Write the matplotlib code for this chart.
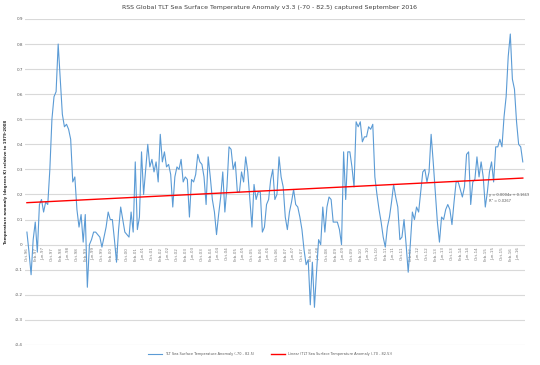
import matplotlib
matplotlib.use("Agg")
import matplotlib.pyplot as plt
import numpy as np
import pandas as pd

# Monthly anomaly values (degrees K)
start_month = "1996-10-01"
anomaly = [
    0.05, -0.03, -0.12, 0.02, 0.09, -0.03, 0.16, 0.18, 0.13, 0.17,
    0.16, 0.30, 0.50, 0.59, 0.61, 0.80, 0.66, 0.52, 0.47, 0.48,
    0.46, 0.42, 0.25, 0.27, 0.14, 0.07, 0.12, 0.01, 0.12, -0.17,
    0.00, 0.02, 0.05, 0.05, 0.04, 0.03, -0.01, 0.03, 0.07, 0.13,
    0.10, 0.10, 0.02, -0.07, 0.06, 0.15, 0.10, 0.05, 0.04, 0.03,
    0.13, 0.05, 0.33, 0.06, 0.11, 0.37, 0.20, 0.30, 0.40, 0.31,
    0.34, 0.29, 0.33, 0.25, 0.44, 0.33, 0.37, 0.31, 0.32, 0.28,
    0.15, 0.27, 0.31, 0.30, 0.34, 0.25, 0.27, 0.26, 0.11, 0.26,
    0.25, 0.28, 0.36, 0.33, 0.32, 0.27, 0.16, 0.35, 0.27, 0.18,
    0.13, 0.04, 0.12, 0.19, 0.29, 0.13, 0.23, 0.39, 0.38, 0.30,
    0.33, 0.21, 0.21, 0.29, 0.25, 0.35, 0.29, 0.18, 0.07, 0.24,
    0.18, 0.21, 0.21, 0.05, 0.07, 0.16, 0.18, 0.26, 0.30, 0.18,
    0.20, 0.35, 0.27, 0.23, 0.11, 0.06, 0.13, 0.17, 0.22, 0.16,
    0.15, 0.11, 0.06, -0.02, -0.08, -0.06, -0.24, -0.07, -0.25, -0.11,
    0.02, 0.00, 0.15, 0.05, 0.15, 0.19, 0.18, 0.09, 0.09, 0.09,
    0.06, 0.00, 0.37, 0.18, 0.37, 0.37, 0.31, 0.23, 0.49, 0.47,
    0.49, 0.41, 0.43, 0.43, 0.47, 0.46, 0.48, 0.27, 0.20, 0.14,
    0.09, 0.03, -0.01, 0.07, 0.11, 0.17, 0.24, 0.19, 0.15, 0.02,
    0.03, 0.10, 0.00, -0.11, 0.00, 0.13, 0.10, 0.15, 0.13, 0.21,
    0.29, 0.30, 0.25, 0.29, 0.44, 0.33, 0.21, 0.09, 0.01, 0.11,
    0.10, 0.14, 0.16, 0.14, 0.08, 0.17, 0.25, 0.25, 0.22, 0.19,
    0.23, 0.36, 0.37, 0.16, 0.25, 0.26, 0.35, 0.27, 0.33, 0.27,
    0.15, 0.21, 0.29, 0.33, 0.25, 0.39, 0.39, 0.42, 0.39, 0.51,
    0.59, 0.75, 0.84, 0.66, 0.62, 0.49, 0.40, 0.39, 0.33,
]
yticks = [0.9, 0.8, 0.7, 0.6, 0.5, 0.4, 0.3, 0.2, 0.1, 0, -0.1, -0.2, -0.3, -0.4]
series_name = "TLT Sea Surface Temperature Anomaly (-70 - 82.5)"

months = pd.date_range(start_month, periods=len(anomaly), freq="MS")
labels = [d.strftime("%b-%y") for d in months]
x = np.arange(len(anomaly))

fig = plt.figure(figsize=(5.4, 3.65), dpi=100)
ax = fig.add_axes([0.046, 0.055, 0.926, 0.893])

# category labels sit on the zero line, so move the spine first
ax.spines["bottom"].set_position(("data", 0))
for s in ["top", "right", "left", "bottom"]:
    ax.spines[s].set_visible(False)

ax.plot(x, anomaly, color="#5B9BD5", lw=0.8, label=series_name)

# linear trend like the Excel trendline
fit = np.polyfit(x + 1, anomaly, 1)
trend = np.polyval(fit, x + 1)
ax.plot(x, trend, color="#FF0000", lw=1.0, label="Linear (" + series_name + ")")
resid = np.array(anomaly) - trend
r2 = 1 - np.sum(resid ** 2) / np.sum((np.array(anomaly) - np.mean(anomaly)) ** 2)
ax.text(x[-1] - 16, 0.185, f"y = {fit[0]:.4f}x + {fit[1]:.4f}\nR² = {r2:.4f}",
        fontsize=2.6, color="#595959", ha="left", va="center", linespacing=1.6)

ax.set_xlim(-1, len(anomaly))
ax.set_ylim(-0.4, 0.9)
ax.set_yticks(yticks)
ax.set_yticklabels([f"{v:g}" for v in yticks], fontsize=3, color="#595959")
ax.grid(axis="y", color="#D9D9D9", lw=0.8)
ax.set_axisbelow(True)

ax.set_xticks(x[::4])
ax.set_xticklabels(labels[::4], rotation=90, fontsize=3, color="#7F7F7F")
ax.tick_params(length=0, pad=1.5)

ax.set_ylabel("Temperature anomaly (degrees K) relative to 1979-2008",
              fontsize=2.8, color="#262626", fontweight="bold", labelpad=5)
fig.suptitle("RSS Global TLT Sea Surface Temperature Anomaly v3.3 (-70 - 82.5) captured September 2016",
             fontsize=4.5, color="#404040", y=0.985)

fig.legend(loc="center", bbox_to_anchor=(0.5, 0.03), ncol=2, frameon=False,
           fontsize=2.5, labelcolor="#595959", handlelength=4, columnspacing=5)

fig.savefig("out.png", dpi=100)
